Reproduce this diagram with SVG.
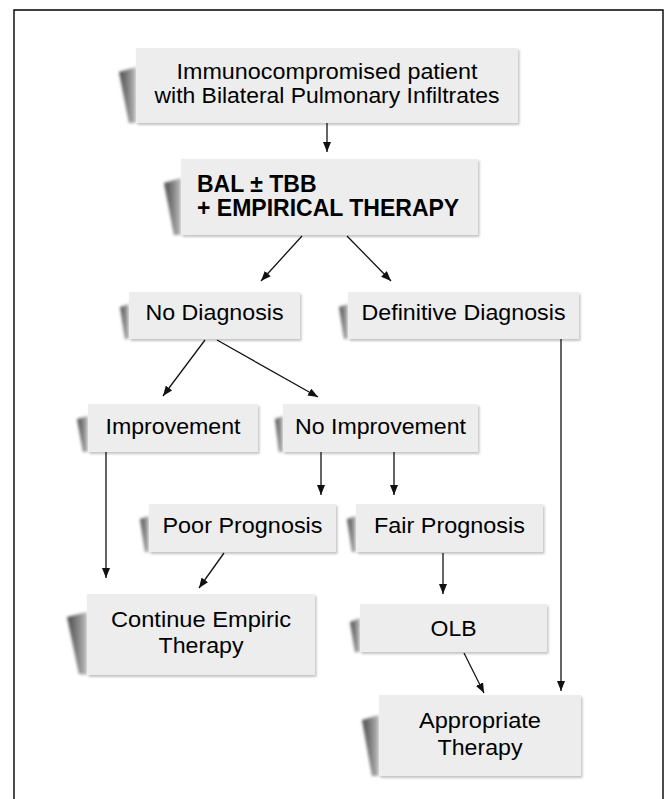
<svg xmlns="http://www.w3.org/2000/svg" width="664" height="799" viewBox="0 0 664 799">
<style>
.box{fill:#ededed;filter:url(#ds);}
.sh{fill:url(#shg);filter:url(#blur);}
.t{font-family:"Liberation Sans",Arial,sans-serif;font-size:22px;fill:#000;text-anchor:middle;}
.b{font-family:"Liberation Sans",Arial,sans-serif;font-size:23px;font-weight:bold;fill:#000;}
.c{stroke:#111;stroke-width:1.3;fill:none;marker-end:url(#ah);}
.frame{stroke:#000;stroke-width:1.4;fill:none;}
</style>
<defs>
<linearGradient id="shg" x1="0" y1="0" x2="1" y2="0">
<stop offset="0" stop-color="#4a4a4a"/>
<stop offset="0.6" stop-color="#8a8a8a"/>
<stop offset="1" stop-color="#c0c0c0"/>
</linearGradient>
<filter id="blur" x="-50%" y="-20%" width="200%" height="140%"><feGaussianBlur stdDeviation="1.5"/></filter>
<filter id="ds" x="-5%" y="-10%" width="115%" height="130%"><feDropShadow dx="1.5" dy="2" stdDeviation="1" flood-color="#888" flood-opacity="0.5"/></filter>
<marker id="ah" markerUnits="userSpaceOnUse" markerWidth="10" markerHeight="8" refX="10" refY="4" orient="auto"><path d="M0,0 L10,4 L0,8 z" fill="#111"/></marker>
</defs>
<rect width="664" height="799" fill="#fff"/>
<path class="frame" d="M14,799 L14,10 L663,10 L663,799"/>

<g id="n1"><polygon class="sh" points="119,72 136,67 136,123 129,123"/><rect class="box" x="136" y="48" width="382" height="75"/>
<text class="t" x="327" y="79" textLength="301" lengthAdjust="spacingAndGlyphs">Immunocompromised patient</text>
<text class="t" x="327" y="103" textLength="345" lengthAdjust="spacingAndGlyphs">with Bilateral Pulmonary Infiltrates</text></g>

<g id="n2"><polygon class="sh" points="164,183 181,178 181,235 174,235"/><rect class="box" x="181" y="159" width="297" height="76"/>
<text class="b" x="197" y="192">BAL ± TBB</text>
<text class="b" x="197" y="216">+ EMPIRICAL THERAPY</text></g>

<g id="n3"><polygon class="sh" points="120,307 129,304 129,339 125,339"/><rect class="box" x="129" y="292" width="171" height="47"/>
<text class="t" x="214.5" y="320" textLength="138" lengthAdjust="spacingAndGlyphs">No Diagnosis</text></g>

<g id="n4"><polygon class="sh" points="339,307 348,304 348,339 344,339"/><rect class="box" x="348" y="292" width="231" height="47"/>
<text class="t" x="463.5" y="320" textLength="204" lengthAdjust="spacingAndGlyphs">Definitive Diagnosis</text></g>

<g id="n5"><polygon class="sh" points="77,419 88,416 88,452 83,452"/><rect class="box" x="88" y="404" width="170" height="48"/>
<text class="t" x="173" y="434" textLength="135" lengthAdjust="spacingAndGlyphs">Improvement</text></g>

<g id="n6"><polygon class="sh" points="275,419 283,416 283,452 279,452"/><rect class="box" x="283" y="404" width="195" height="48"/>
<text class="t" x="380.5" y="434" textLength="171" lengthAdjust="spacingAndGlyphs">No Improvement</text></g>

<g id="n7"><polygon class="sh" points="140,519 149,516 149,552 145,552"/><rect class="box" x="149" y="504" width="187" height="48"/>
<text class="t" x="242.5" y="533" textLength="160" lengthAdjust="spacingAndGlyphs">Poor Prognosis</text></g>

<g id="n8"><polygon class="sh" points="347,519 356,516 356,552 352,552"/><rect class="box" x="356" y="504" width="187" height="48"/>
<text class="t" x="449.5" y="533" textLength="151" lengthAdjust="spacingAndGlyphs">Fair Prognosis</text></g>

<g id="n9"><polygon class="sh" points="67,617 87,612 87,675 79,674"/><rect class="box" x="87" y="594" width="228" height="81"/>
<text class="t" x="201" y="627" textLength="180" lengthAdjust="spacingAndGlyphs">Continue Empiric</text>
<text class="t" x="201" y="653" textLength="85" lengthAdjust="spacingAndGlyphs">Therapy</text></g>

<g id="n10"><polygon class="sh" points="350,622 360,618 360,652 355,652"/><rect class="box" x="360" y="604" width="187" height="48"/>
<text class="t" x="453.5" y="636" textLength="46" lengthAdjust="spacingAndGlyphs">OLB</text></g>

<g id="n11"><polygon class="sh" points="362,720 379,715 379,776 372,776"/><rect class="box" x="379" y="695" width="202" height="81"/>
<text class="t" x="480" y="728" textLength="122" lengthAdjust="spacingAndGlyphs">Appropriate</text>
<text class="t" x="480" y="755" textLength="85" lengthAdjust="spacingAndGlyphs">Therapy</text></g>

<g id="connectors">
<line class="c" x1="327" y1="123" x2="327" y2="152"/>
<line class="c" x1="302" y1="236" x2="261" y2="281"/>
<line class="c" x1="347" y1="236" x2="391" y2="281"/>
<line class="c" x1="205" y1="340" x2="163" y2="396"/>
<line class="c" x1="217" y1="340" x2="318" y2="397"/>
<line class="c" x1="106" y1="452" x2="106" y2="578"/>
<line class="c" x1="321" y1="452" x2="321" y2="495"/>
<line class="c" x1="394" y1="452" x2="394" y2="495"/>
<line class="c" x1="561" y1="339" x2="561" y2="691"/>
<line class="c" x1="224" y1="553" x2="199" y2="588"/>
<line class="c" x1="443" y1="553" x2="443" y2="594"/>
<line class="c" x1="464" y1="653" x2="484" y2="693"/>
</g>
</svg>
